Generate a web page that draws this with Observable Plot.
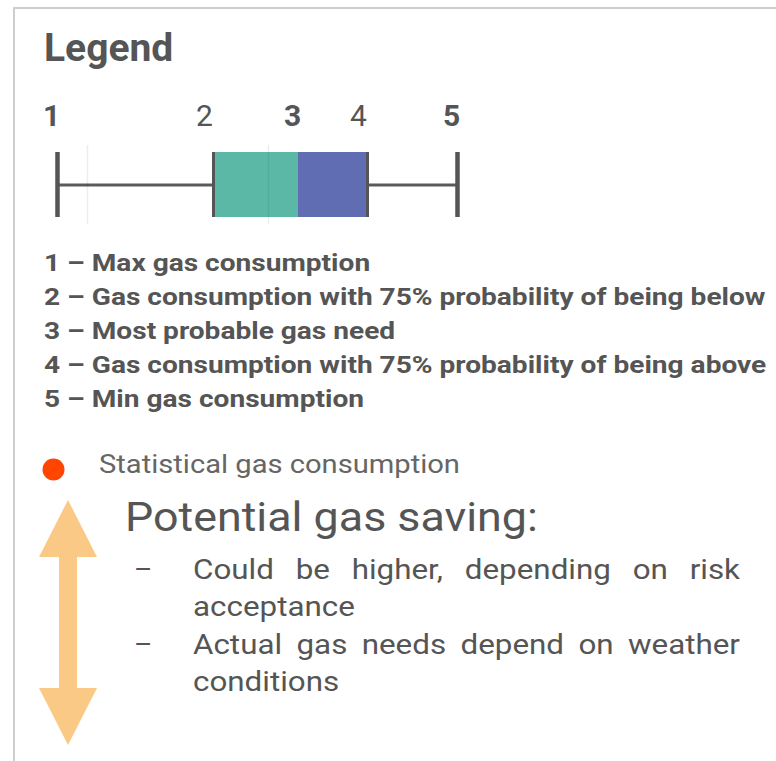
<!DOCTYPE html>
<html>
<head>
<meta charset="utf-8">
<script src="https://cdn.jsdelivr.net/npm/d3@7"></script>
<script src="https://cdn.jsdelivr.net/npm/@observablehq/plot@0.6"></script>
<style>
  html, body { margin: 0; padding: 0; background: #fff; }
  #page { position: relative; width: 776px; height: 761px; overflow: hidden; font-family: Roboto, sans-serif; color: #595959; }
  #frame { position: absolute; left: 13px; top: 7px; width: 900px; height: 900px; border-left: 2px solid #cdcdd2; border-top: 2px solid #cdcdd2; }
  .t { position: absolute; white-space: nowrap; line-height: 1; transform-origin: 0 50%; }
  svg { position: absolute; overflow: visible; }
</style>
</head>
<body>
<div id="page"><div id="frame"></div></div>
<script>
// ---- data ----
const title = "Legend";
const stopLabels = ["1", "2", "3", "4", "5"];
const stopValues = [0, 39, 60.25, 77.5, 100];
const stopBold = [true, false, true, false, true];
const gridValues = [7.5, 52.75];
const boxColors = ["#5BB8A7", "#606DB2"];
const legendItems = [
  "1 \u2013 Max gas consumption",
  "2 \u2013 Gas consumption with 75% probability of being below",
  "3 \u2013 Most probable gas need",
  "4 \u2013 Gas consumption with 75% probability of being above",
  "5 \u2013 Min gas consumption"
];
const dotLabel = "Statistical gas consumption";
const savingTitle = "Potential gas saving:";
const savingFirstLines = ["Could be higher, depending on risk", "Actual gas needs depend on weather"];
const savingSecondLines = ["acceptance", "conditions"];
const arrowAlong = [0, 0.233, 0.233, 0.767, 0.767, 1];
const arrowHalfWidth = [0, 1, 0.31, 0.31, 1, 0];

const page = document.getElementById("page");
const GREY = "#555";
const LIST_STRETCH = 1.17;   // the reference text is drawn horizontally wider
const BODY_STRETCH = 1.12;

function addText(str, x, baseline, size, weight, color, stretch, extra) {
  const d = document.createElement("div");
  d.className = "t";
  d.textContent = str;
  d.style.left = x + "px";
  d.style.top = (baseline - 0.842 * size) + "px";
  d.style.fontSize = size + "px";
  d.style.fontWeight = weight;
  d.style.color = color;
  if (stretch && stretch !== 1) d.style.transform = `scaleX(${stretch})`;
  if (extra) Object.assign(d.style, extra);
  page.appendChild(d);
  return d;
}
function place(svg, left, top) {
  svg.style.left = left + "px";
  svg.style.top = top + "px";
  page.appendChild(svg);
}

// ---- title ----
addText(title, 44, 62, 39, 700, GREY, 1);

// ---- box plot ----
const stops = stopLabels.map((label, i) => ({label, value: stopValues[i], bold: stopBold[i]}));
const whiskers = [
  {x1: stopValues[0], x2: stopValues[1]},
  {x1: stopValues[3], x2: stopValues[4]}
];
const lowerBox = [{x1: stopValues[1], x2: stopValues[2]}];
const upperBox = [{x1: stopValues[2], x2: stopValues[3]}];

const boxPlot = Plot.plot({
  width: 500, height: 140,
  marginLeft: 57, marginRight: 43, marginTop: 62, marginBottom: 13,
  x: {domain: [0, 100], axis: null},
  y: {domain: [-1, 1], axis: null},
  style: {background: "transparent", overflow: "visible"},
  marks: [
    Plot.ruleY(whiskers, {x1: "x1", x2: "x2", y: 0, stroke: "#5a5a5a", strokeWidth: 3}),
    Plot.rect(lowerBox, {x1: "x1", x2: "x2", y1: -1, y2: 1, fill: boxColors[0]}),
    Plot.rect(upperBox, {x1: "x1", x2: "x2", y1: -1, y2: 1, fill: boxColors[1]}),
    Plot.ruleX(gridValues, {y1: -1.22, y2: 1.22, stroke: "#000", strokeOpacity: 0.07, strokeWidth: 1.5}),
    Plot.ruleX([stopValues[1], stopValues[3]], {y1: -1, y2: 1, stroke: "#555", strokeWidth: 3}),
    Plot.ruleX([stopValues[0], stopValues[4]], {y1: -1, y2: 1, stroke: "#555", strokeWidth: 4.5}),
    Plot.text(stops.filter(d => d.bold), {x: "value", y: 1, text: "label", dx: -6, dy: -27, lineAnchor: "bottom", fontSize: 30, fontWeight: 700, fill: GREY, fontFamily: "Roboto"}),
    Plot.text(stops.filter(d => !d.bold), {x: "value", y: 1, text: "label", dx: -9, dy: -27, lineAnchor: "bottom", fontSize: 30, fontWeight: 400, fill: GREY, fontFamily: "Roboto"})
  ]
});
place(boxPlot, 0, 90);

// ---- numbered explanations ----
legendItems.forEach((s, i) => addText(s, 44, 271 + i * 34, 24, 700, GREY, LIST_STRETCH));

// ---- statistical dot ----
const dotPlot = Plot.plot({
  width: 26, height: 26, margin: 0,
  x: {domain: [-1, 1], axis: null}, y: {domain: [-1, 1], axis: null},
  style: {background: "transparent", overflow: "visible"},
  marks: [Plot.dot([[0, 0]], {x: d => d[0], y: d => d[1], r: 11, fill: "#FF4500", stroke: null})]
});
place(dotPlot, 40, 456);
addText(dotLabel, 99, 473, 26, 400, "#666", BODY_STRETCH);

// ---- double arrow ----
const arrowData = arrowAlong.map((t, i) => ({t, lo: -arrowHalfWidth[i], hi: arrowHalfWidth[i]}));
const arrowPlot = Plot.plot({
  width: 58, height: 245, margin: 0,
  x: {domain: [-1, 1], axis: null},
  y: {domain: [0, 1], axis: null, reverse: true},
  style: {background: "transparent", overflow: "visible"},
  marks: [Plot.areaX(arrowData, {y: "t", x1: "lo", x2: "hi", fill: "#FAC985", curve: "linear"})]
});
place(arrowPlot, 39, 500);

// ---- potential saving text ----
addText(savingTitle, 125, 532, 40, 400, GREY, BODY_STRETCH);
savingFirstLines.forEach((s, i) => {
  const base = 580 + i * 75;
  addText("\u2013", 134, base, 28, 400, GREY, 1);
  addText(s, 193, base, 28, 400, GREY, BODY_STRETCH,
    {width: (547 / BODY_STRETCH) + "px", textAlign: "justify", textAlignLast: "justify", whiteSpace: "normal"});
  addText(savingSecondLines[i], 193, base + 37, 28, 400, GREY, BODY_STRETCH);
});
</script>
</body>
</html>
